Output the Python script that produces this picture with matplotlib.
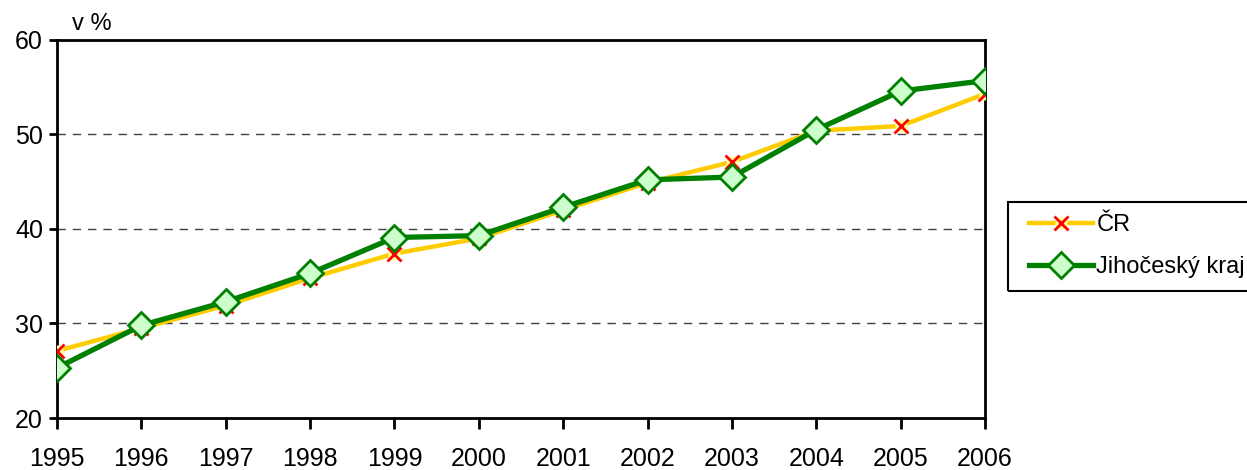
import numpy as np
import matplotlib.pyplot as plt
from matplotlib.legend_handler import HandlerTuple
from matplotlib.patches import Rectangle

plt.rcParams['font.family'] = ['Liberation Sans', 'DejaVu Sans']

years = [1995, 1996, 1997, 1998, 1999, 2000, 2001, 2002, 2003, 2004, 2005, 2006]
cr = [27.1, 29.5, 31.9, 34.8, 37.4, 39.0, 42.0, 44.9, 47.1, 50.4, 50.9, 54.3]
jck = [25.3, 29.8, 32.3, 35.3, 39.1, 39.3, 42.3, 45.2, 45.5, 50.5, 54.6, 55.7]

W, H = 1247, 470
fig = plt.figure(figsize=(W / 100, H / 100), dpi=100)
ax = fig.add_axes([57 / W, 52 / H, 928 / W, 378 / H])

ln1, = ax.plot(years, cr, color='#ffcc00', lw=3.2, zorder=3)
sq, = ax.plot(years, cr, ls='none', marker='s', ms=8, mfc='#ffff99', mec='none', zorder=3)
xm, = ax.plot(years, cr, ls='none', marker='x', ms=10, mew=2, color='#ff0000', zorder=3)

ln2, = ax.plot(years, jck, color='#008000', lw=3.8, marker='D', ms=13,
               mfc='#ccffcc', mec='#008000', mew=2, zorder=4)

ax.set_xlim(1995, 2006)
ax.set_ylim(20, 60)
ax.set_yticks([20, 30, 40, 50, 60])
ax.set_xticks(years)
ax.tick_params(axis='both', labelsize=18, direction='out', width=2, colors='black')
ax.tick_params(axis='x', length=8, pad=13)
ax.tick_params(axis='y', length=6, pad=4)
for s in ax.spines.values():
    s.set_linewidth(2)
for y in [30, 40, 50]:
    ax.axhline(y, color='#404040', lw=1, ls=(0, (6, 5)), zorder=1)

ax.text(0.016, 1.012, 'v %', transform=ax.transAxes, fontsize=17, va='bottom')

# legend frame runs off the right edge like in the original
fig.patches.append(Rectangle((1008 / W, (H - 291) / H), 260 / W, 89 / H,
                             transform=fig.transFigure, fill=False,
                             edgecolor='black', lw=1.5))
leg = fig.legend([(ln1, sq, xm), ln2], ['ČR', 'Jihočeský kraj'],
                 handler_map={tuple: HandlerTuple(ndivide=1)},
                 loc='upper left', bbox_to_anchor=(1022 / W, (H - 207) / H),
                 fontsize=17, frameon=False,
                 handlelength=2.7, handletextpad=0.15, borderpad=0.3,
                 labelspacing=0.85, borderaxespad=0)

fig.savefig('out.png', dpi=100)
